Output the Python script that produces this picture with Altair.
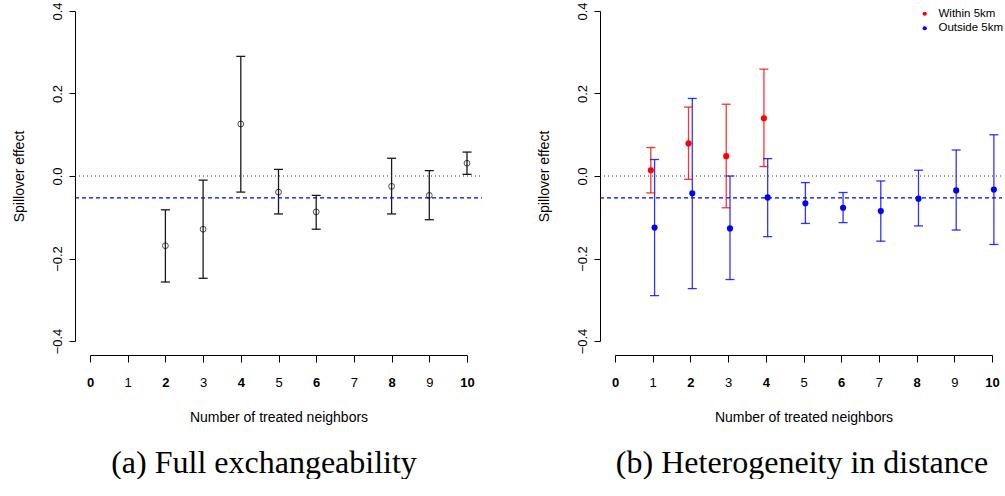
import altair as alt
import pandas as pd

# ---------------- data ----------------
# Panel (a): full exchangeability
a_n = [2, 3, 4, 5, 6, 8, 9, 10]
a_est = [-0.169, -0.129, 0.126, -0.039, -0.087, -0.025, -0.047, 0.031]
a_lo = [-0.257, -0.248, -0.039, -0.092, -0.129, -0.092, -0.106, 0.004]
a_hi = [-0.082, -0.010, 0.290, 0.016, -0.047, 0.043, 0.013, 0.058]

# Panel (b): heterogeneity in distance
w_n = [1, 2, 3, 4]
w_est = [0.014, 0.079, 0.048, 0.140]
w_lo = [-0.041, -0.008, -0.077, 0.023]
w_hi = [0.069, 0.167, 0.174, 0.259]

o_n = [1, 2, 3, 4, 5, 6, 7, 8, 9, 10]
o_est = [-0.125, -0.042, -0.127, -0.052, -0.066, -0.077, -0.085, -0.055, -0.035, -0.033]
o_lo = [-0.290, -0.273, -0.251, -0.147, -0.115, -0.113, -0.158, -0.121, -0.131, -0.166]
o_hi = [0.040, 0.188, 0.000, 0.042, -0.016, -0.040, -0.012, 0.014, 0.063, 0.100]

ref_zero = [0.0]
ref_avg = [-0.053]

groups = ["Within 5km", "Outside 5km"]
group_colors = ["#ff0000", "#0000ff"]
x_ticks = [0, 1, 2, 3, 4, 5, 6, 7, 8, 9, 10]
y_ticks = [-0.4, -0.2, 0.0, 0.2, 0.4]
captions = ["(a) Full exchangeability", "(b) Heterogeneity in distance"]
x_title = "Number of treated neighbors"
y_title = "Spillover effect"

# ---------------- tables ----------------
df_a = pd.DataFrame({"n": a_n, "est": a_est, "lo": a_lo, "hi": a_hi})
df_b = pd.concat([
    pd.DataFrame({"n": w_n, "est": w_est, "lo": w_lo, "hi": w_hi, "group": groups[0]}),
    pd.DataFrame({"n": o_n, "est": o_est, "lo": o_lo, "hi": o_hi, "group": groups[1]}),
], ignore_index=True)
df_zero = pd.DataFrame({"v": ref_zero})
df_avg = pd.DataFrame({"v": ref_avg})

W, H = 377, 330
SANS = "Liberation Sans"

xscale = alt.Scale(domain=[0, 10], nice=False, zero=False)
yscale = alt.Scale(domain=[-0.4, 0.4], nice=False, zero=False)

xaxis = alt.Axis(values=x_ticks, format="d", offset=14, tickSize=7, labelPadding=14,
                 titlePadding=21, grid=False, labelFlush=False, labelOverlap=False,
                 domainColor="black", tickColor="black", labelColor="black",
                 titleColor="black", labelFont=SANS, titleFont=SANS,
                 labelFontSize=13, titleFontSize=14, titleFontWeight="normal",
                 labelFontWeight=alt.condition("datum.value % 2 == 0", alt.value("bold"), alt.value("normal")))
yaxis = alt.Axis(values=y_ticks, format=".1f", offset=15, tickSize=6, labelAngle=270,
                 labelAlign="center", labelBaseline="bottom", labelPadding=5,
                 titlePadding=25, grid=False, labelFlush=False, labelOverlap=False,
                 domainColor="black", tickColor="black", labelColor="black",
                 titleColor="black", labelFont=SANS, titleFont=SANS,
                 labelFontSize=13, titleFontSize=14, titleFontWeight="normal")


def X(field):
    return alt.X(field, type="quantitative", scale=xscale, axis=xaxis, title=x_title)


def Y(field):
    return alt.Y(field, type="quantitative", scale=yscale, axis=yaxis, title=y_title)


def ref_lines(extend_right):
    zero = alt.Chart(df_zero).mark_rule(color="#333333", strokeDash=[1, 3], strokeWidth=1).encode(
        y=Y("v"), x=alt.value(-15), x2=alt.value(W + extend_right))
    avg = alt.Chart(df_avg).mark_rule(color="#0000ff", strokeDash=[4, 3], strokeWidth=1.1).encode(
        y=Y("v"), x=alt.value(-15), x2=alt.value(W + extend_right))
    return zero, avg


def caption(text, cx):
    return alt.Chart(pd.DataFrame({"t": [text]})).mark_text(
        font="Liberation Serif", fontSize=32, align="center", baseline="middle", color="black"
    ).encode(text="t:N", x=alt.value(cx), y=alt.value(452))


# ---------------- panel (a) ----------------
base_a = alt.Chart(df_a).transform_calculate(
    xp="datum.n", xl="datum.n - 0.12", xr="datum.n + 0.12")
bars_a = base_a.mark_rule(color="#1a1a1a", strokeWidth=1.3).encode(
    x=X("xp"), y=Y("lo"), y2="hi:Q")
cap_hi_a = base_a.mark_rule(color="#1a1a1a", strokeWidth=1.3).encode(
    x=X("xl"), x2="xr:Q", y=Y("hi"))
cap_lo_a = base_a.mark_rule(color="#1a1a1a", strokeWidth=1.3).encode(
    x=X("xl"), x2="xr:Q", y=Y("lo"))
pts_a = base_a.mark_point(shape="circle", filled=False, color="black", size=34, strokeWidth=1).encode(
    x=X("xp"), y=Y("est"))
z_a, m_a = ref_lines(15)
panel_a = alt.layer(bars_a, cap_hi_a, cap_lo_a, z_a, m_a, pts_a, caption(captions[0], 174)).properties(
    width=W, height=H)

# ---------------- panel (b) ----------------
color_scale = alt.Scale(domain=groups, range=group_colors)
legend_b = alt.Legend(orient="none", legendX=829, legendY=-3, title=None,
                      symbolType="circle", symbolSize=18, symbolStrokeWidth=0,
                      symbolOpacity=1,
                      labelFont=SANS, labelFontSize=11.5, labelColor="black",
                      labelOffset=8, rowPadding=1.5, padding=0)
col = alt.Color("group:N", scale=color_scale, legend=legend_b)
base_b = alt.Chart(df_b).transform_calculate(
    xp="datum.n + (datum.group == 'Within 5km' ? -0.05 : 0.05)"
).transform_calculate(xl="datum.xp - 0.12", xr="datum.xp + 0.12")
pts_b = base_b.mark_circle(size=38, opacity=1).encode(
    x=X("xp"), y=Y("est"), color=col)
bars_b = base_b.mark_rule(strokeWidth=1.3, opacity=0.8).encode(
    x=X("xp"), y=Y("lo"), y2="hi:Q", color=col)
cap_hi_b = base_b.mark_rule(strokeWidth=1.3, opacity=0.8).encode(
    x=X("xl"), x2="xr:Q", y=Y("hi"), color=col)
cap_lo_b = base_b.mark_rule(strokeWidth=1.3, opacity=0.8).encode(
    x=X("xl"), x2="xr:Q", y=Y("lo"), color=col)
z_b, m_b = ref_lines(10)
panel_b = alt.layer(pts_b, z_b, m_b, bars_b, cap_hi_b, cap_lo_b, caption(captions[1], 187)).properties(
    width=W, height=H)

chart = alt.hconcat(panel_a, panel_b, spacing=54).properties(
    padding={"left": 12, "top": 1, "right": 0, "bottom": 0}
).configure(background="white").configure_view(stroke=None)

chart.save("out.html", embed_options={"renderer": "svg", "actions": False})
